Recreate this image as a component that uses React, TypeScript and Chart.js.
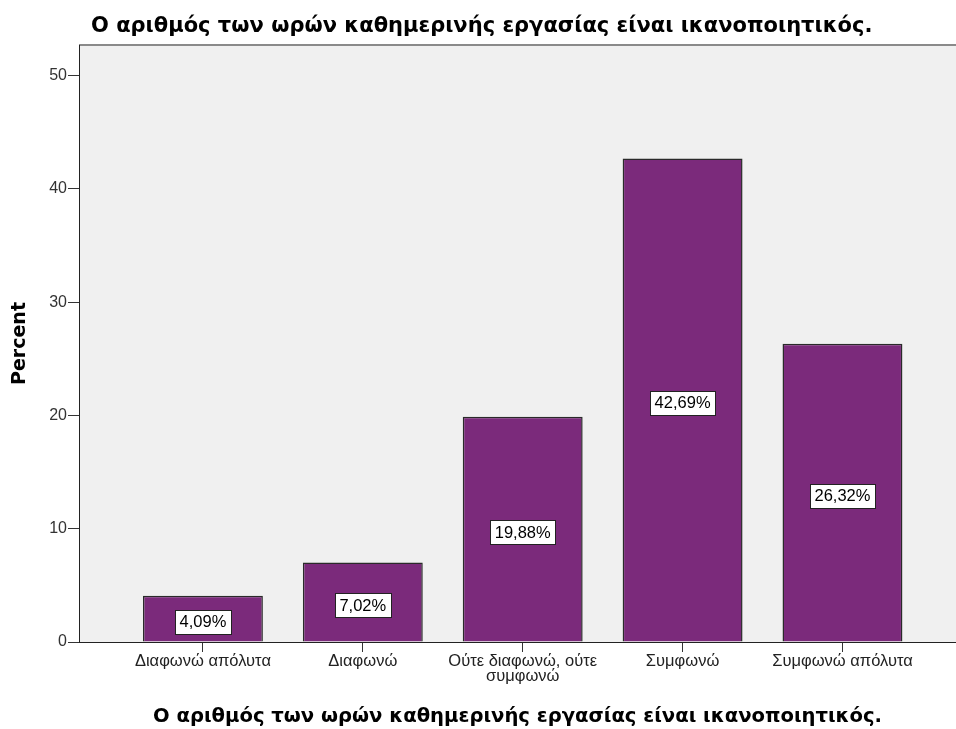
import React, { useEffect, useRef } from "react";
import { Chart, registerables } from "chart.js";

Chart.register(...registerables);

const TITLE = "Ο αριθμός των ωρών καθημερινής εργασίας είναι ικανοποιητικός.";
const categories: (string | string[])[] = [
  "Διαφωνώ απόλυτα",
  "Διαφωνώ",
  ["Ούτε διαφωνώ, ούτε", "συμφωνώ"],
  "Συμφωνώ",
  "Συμφωνώ απόλυτα",
];
const percents = [4.09, 7.02, 19.88, 42.69, 26.32];
const percentLabels = ["4,09%", "7,02%", "19,88%", "42,69%", "26,32%"];
const yTicks = [0, 10, 20, 30, 40, 50];

const PURPLE = "#7b2a7b";

const titlePlugin = {
  id: "topTitle",
  afterDraw(chart: any) {
    const { ctx, chartArea } = chart;
    ctx.save();
    ctx.font = "bold 21px 'DejaVu Sans'";
    ctx.fillStyle = "#000";
    ctx.textAlign = "left";
    ctx.textBaseline = "middle";
    ctx.fillText(TITLE, chartArea.left + 12, 27);
    ctx.restore();
  },
};

const bgPlugin = {
  id: "plotBg",
  beforeDraw(chart: any) {
    const { ctx, chartArea } = chart;
    ctx.save();
    ctx.fillStyle = "#f0f0f0";
    ctx.fillRect(chartArea.left, chartArea.top, chartArea.right - chartArea.left, chartArea.bottom - chartArea.top);
    ctx.strokeStyle = "#8a8a8a";
    ctx.lineWidth = 2;
    ctx.beginPath();
    ctx.moveTo(chartArea.left, chartArea.top);
    ctx.lineTo(chartArea.right, chartArea.top);
    ctx.stroke();
    ctx.restore();
  },
};

const labelPlugin = {
  id: "barLabels",
  afterDatasetsDraw(chart: any) {
    const { ctx } = chart;
    const meta = chart.getDatasetMeta(0);
    ctx.save();
    ctx.font = "16.5px 'Liberation Sans'";
    ctx.textAlign = "center";
    ctx.textBaseline = "middle";
    meta.data.forEach((bar: any, i: number) => {
      const text = percentLabels[i];
      const cx = bar.x;
      const cy = (bar.y + bar.base) / 2 + 3;
      const w = Math.round(ctx.measureText(text).width + 9);
      const h = 24;
      const x0 = Math.round(cx - w / 2);
      const y0 = Math.round(cy - h / 2);
      ctx.fillStyle = "#fff";
      ctx.fillRect(x0, y0, w, h);
      ctx.strokeStyle = "#222";
      ctx.lineWidth = 1;
      ctx.strokeRect(x0 + 0.5, y0 + 0.5, w, h);
      ctx.fillStyle = "#000";
      ctx.fillText(text, cx, cy + 1);
    });
    ctx.restore();
  },
};

export default function App() {
  const ref = useRef<HTMLCanvasElement | null>(null);
  useEffect(() => {
    if (!ref.current) return;
    const chart = new Chart(ref.current, {
      type: "bar",
      data: {
        datasets: [
          {
            data: percents.map((v, i) => ({ x: i, y: v })),
            backgroundColor: PURPLE,
            borderColor: "#2a2a2a",
            borderWidth: 1.5,
            barPercentage: 0.75,
            categoryPercentage: 1,
          },
        ],
      },
      options: {
        animation: false,
        responsive: true,
        maintainAspectRatio: false,
        layout: { padding: { top: 45, right: 0, left: 0, bottom: 0 } },
        plugins: { legend: { display: false }, tooltip: { enabled: false } },
        scales: {
          x: {
            type: "linear",
            min: -0.775,
            max: 4.71,
            offset: false,
            afterBuildTicks: (scale: any) => {
              scale.ticks = categories.map((_, i) => ({ value: i }));
            },
            afterFit: (scale: any) => {
              scale.height = 87;
            },
            grid: {
              offset: false,
              drawOnChartArea: false,
              drawTicks: true,
              tickLength: 10,
              tickColor: "#333",
              tickWidth: 1,
            },
            border: { display: true, color: "#222", width: 1 },
            ticks: {
              autoSkip: false,
              maxRotation: 0,
              padding: 2,
              color: "#222",
              font: { family: "'Liberation Sans'", size: 16.5, lineHeight: 0.92 },
              callback: (v: any) => categories[v as number] ?? "",
            },
            title: {
              display: true,
              text: TITLE,
              color: "#000",
              font: { family: "'DejaVu Sans'", size: 19.6, weight: "bold" },
              padding: { top: 0, bottom: 0 },
            },
          },
          y: {
            min: 0,
            max: 52.7,
            afterBuildTicks: (scale: any) => {
              scale.ticks = yTicks.map((v) => ({ value: v }));
            },
            afterFit: (scale: any) => {
              scale.width = 79;
            },
            grid: {
              drawOnChartArea: false,
              drawTicks: true,
              tickLength: 11,
              tickColor: "#333",
            },
            border: { display: true, color: "#222", width: 1 },
            ticks: {
              padding: 1,
              color: "#333",
              font: { family: "'Liberation Sans'", size: 16 },
            },
            title: {
              display: true,
              text: "Percent",
              color: "#000",
              font: { family: "'DejaVu Sans'", size: 19, weight: "bold" },
              padding: { top: 9, bottom: 0 },
            },
          },
        },
      },
      plugins: [bgPlugin, labelPlugin, titlePlugin],
    } as any);
    return () => chart.destroy();
  }, []);
  return (
    <div style={{ position: "fixed", left: 0, top: 0, width: 956, height: 729, background: "#fff" }}>
      <canvas ref={ref} />
    </div>
  );
}
